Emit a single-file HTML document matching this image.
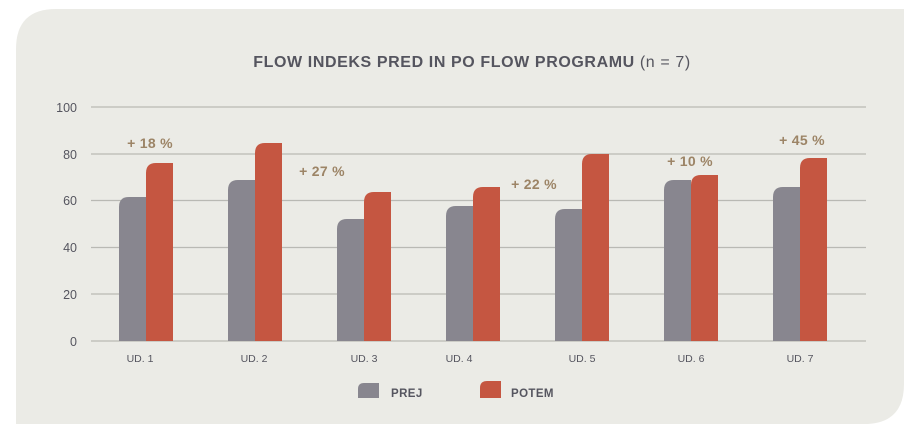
<!DOCTYPE html>
<html><head><meta charset="utf-8"><style>
html,body{margin:0;padding:0;background:#fff;}
svg{display:block;font-family:"Liberation Sans",sans-serif;}
</style></head><body>
<svg width="920" height="430" viewBox="0 0 920 430">
<path d="M16,49 Q16,9 56,9 H904 V384 Q904,424 864,424 H16 Z" fill="#ebebe6"/>
<text x="472" y="67" text-anchor="middle" font-size="16" letter-spacing="0.6" fill="#55555f"><tspan font-weight="bold">FLOW INDEKS PRED IN PO FLOW PROGRAMU</tspan> (n = 7)</text>
<g stroke="#b9b9b4" stroke-width="1.2">
<line x1="91" x2="866" y1="107" y2="107"/><line x1="91" x2="866" y1="154" y2="154"/>
<line x1="91" x2="866" y1="200.5" y2="200.5"/><line x1="91" x2="866" y1="247.5" y2="247.5"/>
<line x1="91" x2="866" y1="294" y2="294"/><line x1="91" x2="866" y1="341" y2="341"/>
</g>
<g font-size="12.5" fill="#55555f" text-anchor="end">
<text x="77" y="112">100</text><text x="77" y="159">80</text><text x="77" y="205">60</text>
<text x="77" y="252">40</text><text x="77" y="299">20</text><text x="77" y="346">0</text>
</g>
<g fill="#88868f">
<path d="M119,341 V207 Q119,197 129,197 H146 V341 Z"/>
<path d="M228,341 V190 Q228,180 238,180 H255 V341 Z"/>
<path d="M337,341 V229 Q337,219 347,219 H364 V341 Z"/>
<path d="M446,341 V216 Q446,206 456,206 H473 V341 Z"/>
<path d="M555,341 V219 Q555,209 565,209 H582 V341 Z"/>
<path d="M664,341 V190 Q664,180 674,180 H691 V341 Z"/>
<path d="M773,341 V197 Q773,187 783,187 H800 V341 Z"/>
</g>
<g fill="#c55641">
<path d="M146,341 V173 Q146,163 156,163 H173 V341 Z"/>
<path d="M255,341 V153 Q255,143 265,143 H282 V341 Z"/>
<path d="M364,341 V202 Q364,192 374,192 H391 V341 Z"/>
<path d="M473,341 V197 Q473,187 483,187 H500 V341 Z"/>
<path d="M582,341 V164 Q582,154 592,154 H609 V341 Z"/>
<path d="M691,341 V185 Q691,175 701,175 H718 V341 Z"/>
<path d="M800,341 V168 Q800,158 810,158 H827 V341 Z"/>
</g>
<g font-size="14" font-weight="bold" fill="#9c8466" text-anchor="middle" letter-spacing="0.3">
<text x="150" y="148">+ 18 %</text>
<text x="322" y="176">+ 27 %</text>
<text x="534" y="189">+ 22 %</text>
<text x="690" y="166">+ 10 %</text>
<text x="802" y="145">+ 45 %</text>
</g>
<g font-size="10.5" fill="#55555f" text-anchor="middle">
<text x="140" y="362">UD. 1</text><text x="254" y="362">UD. 2</text><text x="364" y="362">UD. 3</text>
<text x="459" y="362">UD. 4</text><text x="582" y="362">UD. 5</text><text x="691" y="362">UD. 6</text>
<text x="800" y="362">UD. 7</text>
</g>
<path d="M358,398 V389 Q358,383 364,383 H379 V398 Z" fill="#88868f"/>
<path d="M480,398 V388 Q480,381 487,381 H501 V398 Z" fill="#c55641"/>
<g font-size="11.5" font-weight="bold" fill="#55555f" letter-spacing="0.4">
<text x="391" y="397">PREJ</text><text x="511" y="397">POTEM</text>
</g>
</svg>
</body></html>
